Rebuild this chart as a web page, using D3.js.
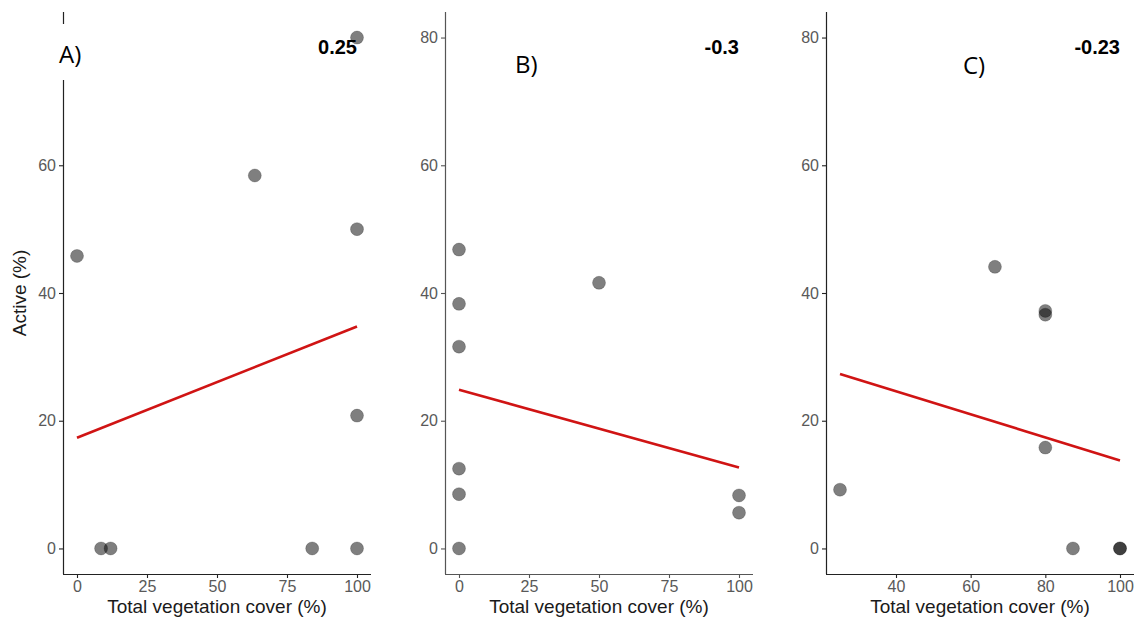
<!DOCTYPE html>
<html>
<head>
<meta charset="utf-8">
<script src="https://cdn.jsdelivr.net/npm/d3@7"></script>
<style>
  body { margin: 0; background: #fff; }
  svg { display: block; }
  .tick text { font-family: "Liberation Sans", Arial, sans-serif; font-size: 16px; fill: #595959; }
</style>
</head>
<body>
<div id="chart"></div>
<script>
// values
var panelLabels = ["A)", "B)", "C)"];
var rValues     = ["0.25", "-0.3", "-0.23"];

var coverA  = [0, 63.5, 100, 100, 8.6, 12, 84, 100, 100];
var activeA = [45.8, 58.4, 50, 20.8, 0, 0, 0, 0, 80];

var coverB  = [0, 0, 0, 0, 0, 0, 50, 100, 100];
var activeB = [46.8, 38.3, 31.6, 12.5, 8.5, 0, 41.6, 8.3, 5.6];

var coverC  = [25, 66.5, 80, 80, 80, 87.4, 100, 100];
var activeC = [9.2, 44.1, 37.2, 36.6, 15.8, 0, 0, 0];

var xTicksAB = [0, 25, 50, 75, 100];
var xTicksC  = [40, 60, 80, 100];
var yTicks   = [0, 20, 40, 60, 80];
var yLimits  = [0, 80];

var width = 1139, height = 627;
var plotTop = 12, plotBottom = 574, plotW = 308;

var panels = [
    {left: 63,  xs: coverA, ys: activeA, ticks: xTicksAB, label: panelLabels[0], r: rValues[0], lx: 59,  ly: 63, axisColor: "#222"},
    {left: 445, xs: coverB, ys: activeB, ticks: xTicksAB, label: panelLabels[1], r: rValues[1], lx: 515, ly: 73, axisColor: "#555"},
    {left: 826, xs: coverC, ys: activeC, ticks: xTicksC,  label: panelLabels[2], r: rValues[2], lx: 963, ly: 74, axisColor: "#222"}
];

var svg = d3.select("#chart").append("svg").attr("width", width).attr("height", height);

// ggplot style 5% expansion
function expand(ext) {
    var pad = (ext[1] - ext[0]) * 0.05;
    return [ext[0] - pad, ext[1] + pad];
}

function fit(xs, ys) {
    var mx = d3.mean(xs), my = d3.mean(ys);
    var sxy = 0, sxx = 0;
    xs.forEach(function(x, i){ sxy += (x - mx) * (ys[i] - my); sxx += (x - mx) * (x - mx); });
    var b = sxy / sxx;
    return {a: my - b * mx, b: b};
}

var y = d3.scaleLinear().domain(expand(yLimits)).range([plotBottom, plotTop]);

panels.forEach(function(p, idx) {

    var x = d3.scaleLinear().domain(expand(d3.extent(p.xs))).range([p.left, p.left + plotW]);
    var g = svg.append("g");

    var pts = p.xs.map(function(v, i){ return {x: v, y: p.ys[i]}; });

    g.append("g").selectAll("circle").data(pts).enter().append("circle")
        .attr("cx", function(d){ return x(d.x); })
        .attr("cy", function(d){ return y(d.y); })
        .attr("r", 6.5)
        .attr("fill", "#000").attr("fill-opacity", 0.5)
        .attr("stroke", "#000").attr("stroke-opacity", 0.25).attr("stroke-width", 0.8);

    var f = fit(p.xs, p.ys);
    var ext = d3.extent(p.xs);
    g.append("line")
        .attr("x1", x(ext[0])).attr("y1", y(f.a + f.b * ext[0]))
        .attr("x2", x(ext[1])).attr("y2", y(f.a + f.b * ext[1]))
        .attr("stroke", "#d01414").attr("stroke-width", 2.6);

    var xAxis = g.append("g").attr("transform", "translate(0," + plotBottom + ")")
        .call(d3.axisBottom(x).tickValues(p.ticks).tickSize(4).tickPadding(3));
    var yAxis = g.append("g").attr("transform", "translate(" + p.left + ",0)")
        .call(d3.axisLeft(y).tickValues(yTicks).tickSize(4).tickPadding(3));

    [xAxis, yAxis].forEach(function(a){
        a.select(".domain").attr("stroke", p.axisColor).attr("stroke-width", 1.2);
        a.selectAll(".tick line").attr("stroke", p.axisColor).attr("stroke-width", 1.1);
    });
    yAxis.select(".domain").attr("d", "M0.5," + plotTop + "V" + plotBottom);
    xAxis.select(".domain").attr("d", "M" + p.left + ",0.5H" + (p.left + plotW));

    g.append("text")
        .attr("x", p.left + plotW / 2).attr("y", 613)
        .attr("text-anchor", "middle")
        .style("font-family", "Liberation Sans, Arial, sans-serif").style("font-size", "19px").style("fill", "#1a1a1a")
        .text("Total vegetation cover (%)");

    // white box hiding the top of panel A's axis, as in the figure
    if (idx === 0) {
        g.append("rect").attr("x", 38).attr("y", 24).attr("width", 60).attr("height", 56).attr("fill", "#fff");
    }

    g.append("text")
        .attr("x", p.lx).attr("y", p.ly)
        .style("font-family", "Open Sans, sans-serif").style("font-size", "24px").style("fill", "#000")
        .text(p.label);

    g.append("text")
        .attr("x", x(100)).attr("y", 54)
        .attr("text-anchor", "end")
        .style("font-family", "Liberation Sans, Arial, sans-serif").style("font-size", "20px")
        .style("font-weight", "bold").style("fill", "#000")
        .text(p.r);
});

svg.append("text")
    .attr("transform", "translate(26," + ((plotTop + plotBottom) / 2) + ") rotate(-90)")
    .attr("text-anchor", "middle")
    .style("font-family", "Liberation Sans, Arial, sans-serif").style("font-size", "19px").style("fill", "#1a1a1a")
    .text("Active (%)");
</script>
</body>
</html>
